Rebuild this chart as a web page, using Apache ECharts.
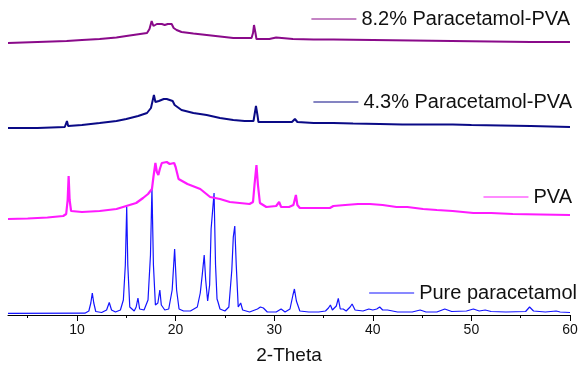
<!DOCTYPE html>
<html>
<head>
<meta charset="utf-8">
<title>XRD</title>
<script src="https://cdn.jsdelivr.net/npm/echarts@6/dist/echarts.min.js"></script>
<style>
  html, body { margin: 0; padding: 0; background: #fff; }
  #chart { width: 582px; height: 374px; }
</style>
</head>
<body>
<div id="chart"></div>
<script>
// 2-Theta tick labels and the short ticks in between
const tickLabels = [10, 20, 30, 40, 50, 60]
const minorTicks = [5, 15, 25, 35, 45, 55]

const seriesNames = ['Pure paracetamol', 'PVA', '4.3% Paracetamol-PVA', '8.2% Paracetamol-PVA']

// [2-theta, intensity incl. offset]
const pureParacetamol = [
  [3, 1.7], [10.8, 1.8], [11.2, 4], [11.4, 12], [11.55, 22], [11.7, 12], [11.9, 3.5], [12.5, 2.5],
  [13.0, 5], [13.27, 12.5], [13.5, 5], [13.9, 3], [14.4, 5], [14.7, 15], [14.9, 50], [15.04, 108],
  [15.15, 50], [15.35, 8], [15.8, 4], [16.0, 8], [16.18, 17], [16.35, 6], [16.8, 5], [17.2, 15],
  [17.45, 60], [17.6, 127], [17.75, 50], [17.95, 10], [18.2, 12], [18.4, 25], [18.55, 10], [18.9, 5],
  [19.3, 6], [19.65, 25], [19.9, 66], [20.1, 25], [20.35, 6], [20.8, 4], [21.5, 4], [22.2, 8],
  [22.5, 22], [22.7, 40], [22.9, 60], [23.05, 35], [23.25, 14], [23.45, 30], [23.6, 86], [23.9, 122],
  [24.05, 50], [24.2, 16], [24.3, 13], [24.5, 6], [25.0, 4], [25.4, 8], [25.7, 45], [25.85, 78],
  [26.0, 89], [26.15, 50], [26.35, 8], [26.6, 12], [26.8, 5], [27.5, 3], [28.3, 6], [28.6, 8],
  [28.9, 7], [29.3, 3], [30.2, 3], [30.7, 6], [31.1, 3], [31.6, 6], [31.9, 20], [32.05, 26],
  [32.25, 14], [32.6, 4], [33.5, 3], [34.5, 3], [35.2, 4], [35.5, 7], [35.7, 10], [35.9, 5],
  [36.3, 9], [36.5, 16.7], [36.7, 6], [37.0, 6], [37.3, 4], [37.7, 8], [37.9, 11], [38.2, 5],
  [39, 4], [39.6, 6], [40.0, 5], [40.4, 6], [40.7, 8], [41.0, 5], [41.5, 5], [42.5, 3],
  [44, 3], [44.8, 5], [45.4, 3], [46.5, 3], [47.3, 6], [48, 3.5], [49.5, 4], [50.2, 6],
  [50.8, 4], [51.4, 5], [52, 3.5], [53.5, 3], [55.5, 3.5], [55.9, 8], [56.3, 4], [57.5, 3],
  [58.6, 4], [59, 3], [60, 2.5]
]

const pva = [
  [3, 96], [5, 96.5], [7, 97.5], [8.6, 99], [8.9, 101], [9.05, 115], [9.15, 139], [9.25, 115],
  [9.4, 104], [9.55, 102], [10.5, 103], [12.3, 104], [14, 106], [15, 109], [16, 112], [16.7, 117],
  [17.2, 121], [17.6, 126], [17.75, 138], [17.95, 152], [18.1, 143], [18.25, 140], [18.4, 146],
  [18.6, 152], [18.8, 152], [19.1, 153], [19.4, 151], [19.6, 150], [19.85, 152], [20.0, 148],
  [20.15, 142], [20.3, 136], [20.5, 134], [21.2, 131], [22.5, 126], [23.5, 118], [24.5, 116],
  [25.5, 113], [26.5, 112], [27.5, 111], [27.85, 113], [28.0, 130], [28.2, 150], [28.35, 130],
  [28.55, 112], [29.2, 108], [30.2, 109], [30.5, 113], [30.7, 108], [31.5, 108], [31.95, 110],
  [32.2, 120], [32.35, 110], [32.6, 107], [34, 107], [35.65, 107], [36, 109], [37.2, 110],
  [38.5, 111], [39.7, 111], [41, 110], [42.4, 108], [43.5, 108], [45.1, 106], [46.5, 105],
  [48.1, 104], [50.2, 102], [52, 102], [54.2, 101], [57, 100.5], [60, 100]
]

const pva43 = [
  [3, 187], [6, 187], [8.76, 188], [8.9, 190], [8.98, 194], [9.1, 189], [9.3, 188], [10.5, 190],
  [12.3, 192], [14, 194], [15, 196], [16.2, 199], [17.1, 202], [17.5, 207], [17.8, 220], [17.95, 213],
  [18.1, 211], [18.3, 214], [18.5, 216], [18.8, 216], [19.1, 216], [19.4, 215], [19.7, 214],
  [19.9, 210], [20.0, 208], [20.6, 205], [21.8, 202], [23.15, 200], [24.5, 197], [25.85, 195],
  [27.0, 194], [27.9, 194], [28.0, 200], [28.15, 209], [28.3, 200], [28.4, 193], [29.5, 193],
  [30.2, 193], [30.4, 195], [30.6, 193], [31.8, 193], [32.1, 196], [32.35, 193], [34, 192],
  [36, 192], [38, 191.5], [40.7, 191], [43, 190.5], [45, 190.5], [48.1, 190.5], [50, 190],
  [53, 189.5], [56, 189], [60, 188]
]

const pva82 = [
  [3, 272], [6, 273], [8.95, 274], [10.5, 275], [12.3, 276], [14, 277.5], [15, 279], [16.4, 281],
  [17.1, 282], [17.35, 286], [17.57, 294], [17.75, 289], [17.9, 288], [18.1, 291], [18.3, 292],
  [18.6, 291], [18.9, 290], [19.2, 291], [19.6, 291], [19.8, 287], [20.1, 285], [20.6, 283],
  [21.8, 281.5], [23.15, 280], [24.5, 278.5], [25.85, 277], [27.0, 277], [27.7, 277], [27.85, 282],
  [27.95, 290], [28.1, 282], [28.2, 276], [29.5, 276], [30.2, 277.5], [30.4, 276], [31.9, 276],
  [34, 275.5], [36, 275.5], [40, 275], [44, 274.5], [48, 274], [52, 273.5], [56, 273], [60, 273]
]

const colors = ['#1414ff', '#ff1aff', '#0a0a86', '#8a0a8a']
const lineWidths = [1.2, 2.2, 2, 2]
const allData = [pureParacetamol, pva, pva43, pva82]

// legend placement for each series (label sits next to its curve)
const legendTops = [283, 187, 92, 9]
const legendRights = [5, 10, 10, 12]

const font = 'Liberation Sans, Arial, sans-serif'

const chart = echarts.init(document.getElementById('chart'), null, { renderer: 'canvas' })

const option = {
  animation: false,
  backgroundColor: '#fff',
  color: colors,
  grid: { left: 8, right: 12, top: 10, bottom: 59 },
  legend: seriesNames.map((name, i) => ({
    data: [name],
    right: legendRights[i],
    top: legendTops[i],
    padding: 0,
    icon: 'rect',
    itemWidth: 45,
    itemHeight: 1,
    textStyle: { fontFamily: font, fontSize: 20, color: '#111' }
  })),
  xAxis: [
    {
      type: 'value',
      min: 3,
      max: 60,
      name: '2-Theta',
      nameLocation: 'middle',
      nameGap: 31,
      nameTextStyle: { fontFamily: font, fontSize: 19, color: '#111' },
      axisLine: { show: true, lineStyle: { color: '#000', width: 1 } },
      axisTick: { show: true, length: 6, customValues: tickLabels, lineStyle: { color: '#000' } },
      axisLabel: { customValues: tickLabels, margin: 8, fontFamily: font, fontSize: 14, color: '#111' },
      splitLine: { show: false }
    },
    {
      // only the short in-between ticks
      type: 'value',
      min: 3,
      max: 60,
      position: 'bottom',
      axisLine: { show: false },
      axisTick: { show: true, length: 3, customValues: minorTicks, lineStyle: { color: '#000' } },
      axisLabel: { show: false },
      splitLine: { show: false }
    }
  ],
  yAxis: {
    type: 'value',
    min: 0,
    max: 305,
    show: false
  },
  series: seriesNames.map((name, i) => ({
    name: name,
    type: 'line',
    xAxisIndex: 0,
    data: allData[i],
    symbol: 'none',
    lineStyle: { width: lineWidths[i], color: colors[i] }
  }))
}

chart.setOption(option)
</script>
</body>
</html>
